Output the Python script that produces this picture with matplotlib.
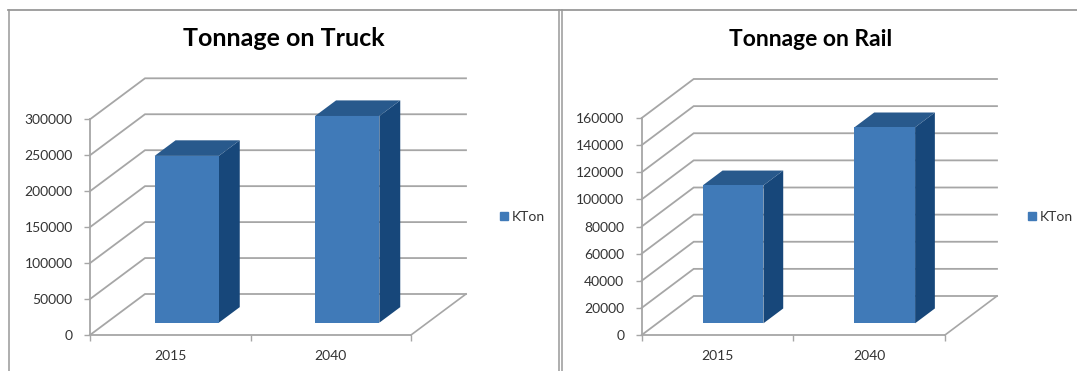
#!/usr/bin/env python

import matplotlib
matplotlib.use('Agg')
import matplotlib.pyplot as plt
from matplotlib.patches import Polygon, Patch

plt.rcParams['font.family'] = ['Lato', 'DejaVu Sans']

WIDTH = 1077
HEIGHT = 371

categories = ['2015', '2040']
series_name = 'KTon'

truck_values = [232000, 287500]
truck_ticks = [0, 50000, 100000, 150000, 200000, 250000, 300000]

rail_values = [101700, 144500]
rail_ticks = [0, 20000, 40000, 60000, 80000, 100000, 120000, 140000, 160000]

GRID = '#a6a6a6'
FRONT = '#407ab8'
TOP = '#28598c'
SIDE = '#17477a'
TEXT = '#333333'


def skew_point(ax, off, x, y, d):
    # d = profondeur, 0 devant et 1 sur le mur du fond
    x_per_px = 2 / ax.bbox.width
    y_per_px = ax.get_ylim()[1] / ax.bbox.height
    return (x + d * off[0] * x_per_px, y + d * off[1] * y_per_px)


def draw_chart(fig, box, off, title, title_pos, title_size, values, ticks, legend_x):
    left, right, top, bottom = box
    ax = fig.add_axes([left / WIDTH, 1 - bottom / HEIGHT,
                       (right - left) / WIDTH, (bottom - top) / HEIGHT])
    ax.set_xlim(0, 2)
    ax.set_ylim(0, ticks[-1])
    ax.patch.set_visible(False)

    for s in ['top', 'right']:
        ax.spines[s].set_visible(False)
    for s in ['left', 'bottom']:
        ax.spines[s].set_color(GRID)
        ax.spines[s].set_linewidth(1.3)

    ax.set_yticks(ticks)
    ax.set_yticklabels([str(t) for t in ticks])
    ax.set_xticks([0, 1, 2])
    ax.set_xticklabels([])
    ax.tick_params(axis='both', color=GRID, length=4, width=1)
    ax.tick_params(axis='y', labelsize=10, labelcolor=TEXT, pad=8.5)

    p = lambda x, y, d: skew_point(ax, off, x, y, d)

    # murs et grille
    for t in ticks:
        pts = [p(0, t, 0), p(0, t, 1), p(2, t, 1)]
        ax.plot([q[0] for q in pts], [q[1] for q in pts], color=GRID,
                lw=1.3, clip_on=False, zorder=1, solid_joinstyle='miter')
    pts = [p(2, 0, 0), p(2, 0, 1)]
    ax.plot([q[0] for q in pts], [q[1] for q in pts], color=GRID, lw=1.2,
            clip_on=False, zorder=1)

    # barres
    d0 = 0.3
    d1 = 0.68
    for i, v in enumerate(values):
        x0 = i + 0.3
        x1 = i + 0.7
        front = [p(x0, 0, d0), p(x1, 0, d0), p(x1, v, d0), p(x0, v, d0)]
        side = [p(x1, 0, d0), p(x1, 0, d1), p(x1, v, d1), p(x1, v, d0)]
        roof = [p(x0, v, d0), p(x1, v, d0), p(x1, v, d1), p(x0, v, d1)]
        ax.add_patch(Polygon(side, color=SIDE, lw=0, clip_on=False, zorder=3))
        ax.add_patch(Polygon(roof, color=TOP, lw=0, clip_on=False, zorder=3))
        ax.add_patch(Polygon(front, color=FRONT, lw=0, clip_on=False, zorder=4))
        ax.text(i + 0.5, -ticks[-1] * 0.0695, categories[i], ha='center',
                va='top', fontsize=10, color=TEXT)

    fig.text(title_pos[0] / WIDTH, 1 - title_pos[1] / HEIGHT, title, ha='center',
             va='center', fontsize=title_size, fontweight='bold', color='black')

    fig.legend(handles=[Patch(color=FRONT, label=series_name)], frameon=False,
               loc='center left', fontsize=10, labelcolor=TEXT,
               bbox_to_anchor=(legend_x / WIDTH, 1 - 217 / HEIGHT),
               handlelength=0.58, handleheight=0.58, handletextpad=0.3,
               borderpad=0, borderaxespad=0)


fig = plt.figure(figsize=(WIDTH / 100, HEIGHT / 100), dpi=100, facecolor='white')

draw_chart(fig, (90, 411, 119.3, 335), (55, 41), 'Tonnage on Truck', (284, 39), 18,
           truck_values, truck_ticks, 500)
draw_chart(fig, (641.7, 945, 118, 335), (52, 39), 'Tonnage on Rail', (811, 40), 16.5,
           rail_values, rail_ticks, 1028)

# cadres des captures
for x in [8.5, 559, 561.5]:
    fig.add_artist(plt.Line2D([x / WIDTH, x / WIDTH], [0, 1 - 10 / HEIGHT],
                              color='#999999', lw=1.1))
fig.add_artist(plt.Line2D([8 / WIDTH, 1], [1 - 10 / HEIGHT, 1 - 10 / HEIGHT],
                          color='#999999', lw=1.3))

fig.savefig('out.png', dpi=100)
